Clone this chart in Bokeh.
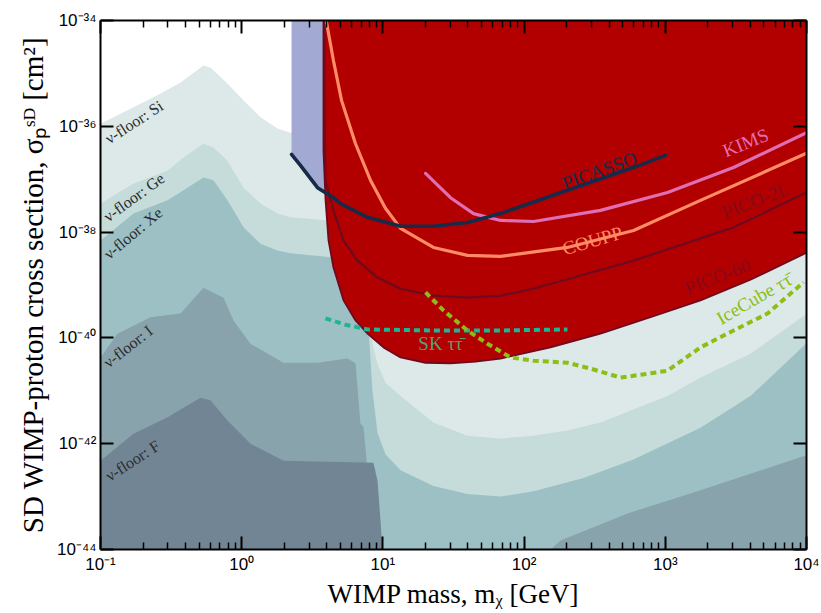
import numpy as np
from bokeh.plotting import figure
from bokeh.models import LogAxis, FixedTicker, CustomJSTickFormatter, Range1d, ColumnDataSource
from bokeh.core.properties import value
from bokeh.embed import file_html
from bokeh.resources import INLINE

# ------------------------------------------------------------------
# Tick values / labels
# ------------------------------------------------------------------
x_major_ticks = [1e-1, 1e0, 1e1, 1e2, 1e3, 1e4]
x_tick_labels = ["10\u207b\u00b9", "10\u2070", "10\u00b9", "10\u00b2", "10\u00b3", "10\u2074"]
y_major_ticks = [1e-44, 1e-42, 1e-40, 1e-38, 1e-36, 1e-34]
y_tick_labels = ["10\u207b\u2074\u2074", "10\u207b\u2074\u00b2", "10\u207b\u2074\u2070",
                 "10\u207b\u00b3\u2078", "10\u207b\u00b3\u2076", "10\u207b\u00b3\u2074"]
x_minor_ticks = [k * 10.0 ** d for d in range(-1, 4) for k in range(2, 10)]

# ------------------------------------------------------------------
# Data: log10(WIMP mass / GeV) and log10(sigma / cm^2)
# ------------------------------------------------------------------
# neutrino-floor shading levels (lightest -> darkest)
floor_si_logm = [-1.000, -0.766, -0.575, -0.433, -0.271, -0.221, -0.101, 0.013, 0.133, 0.254, 0.346, 0.700, 1.125, 1.833, 2.895, 4.000]
floor_si_logs = [-35.95, -35.64, -35.38, -35.17, -34.85, -34.89, -35.19, -35.51, -35.83, -36.04, -36.12, -36.15, -38.00, -38.80, -38.60, -37.90]

floor_ge_logm = [-1.000, -0.766, -0.525, -0.412, -0.271, -0.200, -0.101, 0.013, 0.133, 0.254, 0.346, 0.608, 0.806, 0.841, 0.898, 0.926, 0.962, 1.018, 1.125, 1.358, 1.599, 1.833, 2.067, 2.307, 2.541, 3.016, 3.249, 3.603, 4.000]
floor_ge_logs = [-37.46, -37.08, -36.84, -36.59, -36.33, -36.40, -36.65, -37.16, -37.46, -37.65, -37.72, -37.78, -37.85, -38.00, -39.60, -40.10, -40.50, -40.85, -41.10, -41.60, -41.85, -41.90, -41.85, -41.75, -41.60, -41.10, -40.75, -40.30, -39.55]

floor_xe_logm = [-1.000, -0.766, -0.525, -0.384, -0.271, -0.200, -0.101, 0.013, 0.133, 0.254, 0.346, 0.650, 0.806, 0.856, 0.898, 0.926, 0.962, 1.018, 1.125, 1.358, 1.599, 1.833, 2.067, 2.421, 2.775, 3.249, 3.603, 4.000]
floor_xe_logs = [-38.16, -37.65, -37.40, -37.16, -36.97, -37.02, -37.40, -37.91, -38.22, -38.35, -38.40, -38.48, -38.50, -38.60, -39.80, -41.00, -41.80, -42.20, -42.50, -42.80, -42.95, -43.00, -42.90, -42.65, -42.30, -41.70, -41.10, -40.10]

floor_i_logm = [-1.000, -0.880, -0.646, -0.433, -0.271, -0.129, -0.058, 0.062, 0.296, 0.537, 0.749, 0.806, 0.841, 0.863, 0.898, 0.933, 1.500, 2.187, 2.258, 2.732, 3.249, 4.000]
floor_i_logs = [-40.37, -39.92, -39.61, -39.54, -39.05, -39.24, -39.67, -40.11, -40.47, -40.47, -40.39, -40.48, -41.62, -41.69, -42.70, -44.30, -45.50, -44.00, -43.83, -43.32, -42.88, -42.22]

floor_f_logm = [-1.000, -0.766, -0.525, -0.292, -0.221, -0.101, 0.062, 0.296, 0.933, 0.962, 0.983, 1.004, 2.000, 4.000]
floor_f_logs = [-42.32, -41.81, -41.50, -41.13, -41.18, -41.56, -42.00, -42.32, -42.36, -42.70, -43.45, -44.30, -46.00, -46.00]

# experimental limits
pico60_logm = [0.579, 0.579, 0.594, 0.615, 0.650, 0.721, 0.806, 0.891, 1.004, 1.125, 1.302, 1.479, 1.656, 1.833, 2.187, 2.541, 2.895, 3.249, 3.603, 4.000]
pico60_logs = [-33.50, -36.46, -37.40, -38.16, -38.67, -39.29, -39.67, -39.92, -40.18, -40.37, -40.47, -40.48, -40.45, -40.39, -40.18, -39.92, -39.61, -39.29, -38.90, -38.39]

pico2l_logm = [0.586, 0.586, 0.593, 0.650, 0.721, 0.820, 0.962, 1.125, 1.358, 1.599, 1.833, 2.067, 2.775, 3.483, 4.000]
pico2l_logs = [-33.50, -35.51, -37.02, -37.59, -38.16, -38.54, -38.86, -39.07, -39.20, -39.24, -39.20, -39.07, -38.54, -37.91, -37.25]

coupp_logm = [0.585, 0.650, 0.707, 0.806, 0.912, 1.018, 1.125, 1.358, 1.599, 1.833, 2.307, 2.775, 3.249, 4.000]
coupp_logs = [-33.80, -34.76, -35.51, -36.33, -37.02, -37.55, -37.93, -38.29, -38.44, -38.46, -38.29, -37.97, -37.40, -36.51]

kims_logm = [1.302, 1.479, 1.642, 1.833, 2.067, 2.541, 3.016, 3.483, 4.000]
kims_logs = [-36.89, -37.35, -37.65, -37.78, -37.80, -37.59, -37.25, -36.78, -36.12]

picasso_logm = [0.353, 0.416, 0.537, 0.650, 0.700, 0.891, 1.125, 1.358, 1.599, 1.833, 2.307, 2.775, 3.001]
picasso_logs = [-36.53, -36.74, -37.16, -37.35, -37.46, -37.72, -37.89, -37.89, -37.82, -37.65, -37.21, -36.78, -36.55]

sk_logm = [0.593, 0.735, 0.891, 1.358, 1.833, 2.307]
sk_logs = [-39.63, -39.75, -39.84, -39.86, -39.86, -39.84]

icecube_logm = [1.302, 1.429, 1.599, 1.741, 1.904, 2.067, 2.307, 2.470, 2.683, 2.895, 3.016, 3.249, 3.483, 3.724, 3.979]
icecube_logs = [-39.14, -39.48, -39.86, -40.11, -40.37, -40.43, -40.47, -40.58, -40.75, -40.67, -40.62, -40.18, -39.86, -39.54, -38.95]

# text labels
label_texts = ["\u03bd-floor: Si", "\u03bd-floor: Ge", "\u03bd-floor: Xe", "\u03bd-floor: I", "\u03bd-floor: F",
               "PICASSO", "KIMS", "COUPP", "PICO-2L", "PICO-60",
               "SK \u03c4\u03c4\u0304", "IceCube \u03c4\u03c4\u0304"]
label_logm = [-0.763, -0.763, -0.770, -0.805, -0.773, 2.534, 3.568, 2.484, 3.639, 3.370, 1.408, 3.628]
label_logs = [-35.92, -37.34, -38.02, -40.16, -42.32, -36.84, -36.31, -38.16, -37.40, -38.84, -40.11, -39.26]

SIGMA_TOP = 1e-33     # fill extent above the frame
SIGMA_BASE = 1e-50    # fill extent below the frame


def pts(logm, logs):
    return 10.0 ** np.asarray(logm), 10.0 ** np.asarray(logs)


p = figure(width=821, height=613, x_axis_type="log", y_axis_type="log",
           x_range=Range1d(1e-1, 1e4), y_range=Range1d(1e-44, 1e-34),
           output_backend="svg", toolbar_location=None,
           min_border_left=100, min_border_right=15, min_border_top=20, min_border_bottom=64)
p.xgrid.visible = False
p.ygrid.visible = False
p.outline_line_color = None
p.background_fill_color = "white"
p.border_fill_color = "white"

# neutrino floors
floor_colors = ["#dde9e8", "#c5dcda", "#9dc0c4", "#89a3ac", "#718595"]
floors = [(floor_si_logm, floor_si_logs), (floor_ge_logm, floor_ge_logs),
          (floor_xe_logm, floor_xe_logs), (floor_i_logm, floor_i_logs),
          (floor_f_logm, floor_f_logs)]
for (lm, ls), c in zip(floors, floor_colors):
    mx, sy = pts(lm, ls)
    p.varea(x=mx, y1=sy, y2=SIGMA_BASE, fill_color=c, fill_alpha=1.0)

# PICASSO excluded region (blue)
mx, sy = pts(picasso_logm, picasso_logs)
p.varea(x=mx, y1=sy, y2=SIGMA_TOP, fill_color="#a2a9d3")

# PICO-60 excluded region (red)
mx, sy = pts(pico60_logm, pico60_logs)
p.varea(x=mx, y1=sy, y2=SIGMA_TOP, fill_color="#b20000")
p.line(mx, sy, line_color="#6d0a20", line_width=1.8)

# PICO-2L
mx, sy = pts(pico2l_logm, pico2l_logs)
p.line(mx, sy, line_color="#6d0a20", line_width=2.2)

# COUPP
mx, sy = pts(coupp_logm, coupp_logs)
p.line(mx, sy, line_color="#ff8c64", line_width=3.2, line_cap="round")

# KIMS
mx, sy = pts(kims_logm, kims_logs)
p.line(mx, sy, line_color="#e06eb4", line_width=3.2, line_cap="round")

# PICASSO
mx, sy = pts(picasso_logm, picasso_logs)
p.line(mx, sy, line_color="#172b48", line_width=3.6, line_cap="round")

# SK tau tau-bar
mx, sy = pts(sk_logm, sk_logs)
p.line(mx, sy, line_color="#1fb496", line_width=4, line_dash="6 4")

# IceCube tau tau-bar
mx, sy = pts(icecube_logm, icecube_logs)
p.line(mx, sy, line_color="#8cbe14", line_width=4, line_dash="6 4")

# ------------------------------------------------------------------
# Labels (rotated text glyphs)
# ------------------------------------------------------------------
SERIF = "Liberation Serif"
label_angles_deg = [33, 36, 40, 38, 33, 20, 22, 16, 21, 21, 0, 30]
lab_src = ColumnDataSource(dict(
    x=list(10.0 ** np.asarray(label_logm)),
    y=list(10.0 ** np.asarray(label_logs)),
    text=label_texts,
    rot=list(np.radians(label_angles_deg)),
    color=["#2b2b2b"] * 5 + ["#172b48", "#e06eb4", "#ff8c64", "#850a1a", "#850a1a", "#5a9c72", "#8cbe14"],
    size=["16px"] * 5 + ["19px"] * 7,
))
p.text(x="x", y="y", text="text", angle="rot", source=lab_src,
       text_align="center", text_baseline="middle", text_font=value(SERIF),
       text_font_size="size", text_color="color")

# ------------------------------------------------------------------
# Axes
# ------------------------------------------------------------------
x_exps = [int(round(np.log10(t))) for t in x_major_ticks]
y_exps = [int(round(np.log10(t))) for t in y_major_ticks]
fmt_code = """
const e = Math.round(Math.log10(tick));
for (let i = 0; i < exps.length; i++) { if (exps[i] == e) return labels[i]; }
return "";
"""
x_fmt = CustomJSTickFormatter(args=dict(exps=x_exps, labels=x_tick_labels), code=fmt_code)
y_fmt = CustomJSTickFormatter(args=dict(exps=y_exps, labels=y_tick_labels), code=fmt_code)
blank_fmt = CustomJSTickFormatter(code="return '';")


def style(ax, xaxis):
    if xaxis:
        ax.ticker = FixedTicker(ticks=x_major_ticks, minor_ticks=x_minor_ticks)
    else:
        ax.ticker = FixedTicker(ticks=y_major_ticks, minor_ticks=[])
    ax.axis_line_color = "black"
    ax.axis_line_width = 2
    ax.major_tick_in = 13
    ax.major_tick_out = 0
    ax.major_tick_line_width = 2
    ax.major_tick_line_color = "black"
    ax.minor_tick_in = 7
    ax.minor_tick_out = 0
    ax.minor_tick_line_width = 1.5
    ax.minor_tick_line_color = "black"
    ax.major_label_text_font = "Liberation Sans"
    ax.major_label_text_font_size = "17px"
    ax.major_label_text_color = "black"
    ax.axis_label_text_font = SERIF
    ax.axis_label_text_font_style = "normal"
    ax.axis_label_text_color = "black"


xa = p.xaxis[0]
style(xa, True)
xa.formatter = x_fmt
xa.major_label_standoff = 5
xa.axis_label = "WIMP mass, m\u1d6a [GeV]"
xa.axis_label_text_font_size = "27px"
xa.axis_label_standoff = 2

ya = p.yaxis[0]
style(ya, False)
ya.formatter = y_fmt
ya.major_label_standoff = 4
ya.axis_label = "SD WIMP-proton cross section, \u03c3\u209a\u02e2\u1d30 [cm\u00b2]"
ya.axis_label_text_font_size = "29px"
ya.axis_label_standoff = 5

top = LogAxis(formatter=blank_fmt)
style(top, True)
top.major_label_standoff = 0
p.add_layout(top, "above")

right = LogAxis(formatter=blank_fmt)
style(right, False)
right.major_label_standoff = 0
p.add_layout(right, "right")

open("out.html", "w").write(file_html(p, INLINE))
